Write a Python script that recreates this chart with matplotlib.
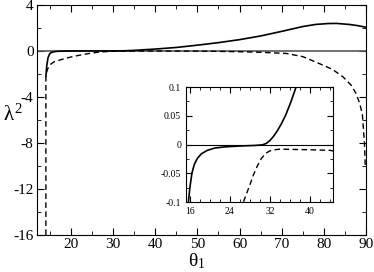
import matplotlib.pyplot as plt
from matplotlib.ticker import MultipleLocator

plt.rcParams["font.family"] = ["Liberation Serif", "DejaVu Serif"]
plt.rcParams["mathtext.fontset"] = "custom"
plt.rcParams["mathtext.rm"] = "Liberation Serif"
plt.rcParams["mathtext.it"] = "Liberation Serif"
plt.rcParams["axes.unicode_minus"] = False

# solid branch (theta_1, lambda^2)
solid_theta = [14.1, 14.3, 14.6, 15.0, 15.4, 15.7, 16.0, 16.4, 16.9, 17.5, 18.3, 19.5, 21.0,
               23.0, 26.0, 29.0, 30.5, 31.3, 32.0, 32.7, 33.5, 34.3, 35.2, 36.2, 37.2,
               40.0, 45.0, 50.0, 55.0, 60.0, 65.0, 70.0, 75.0, 78.0, 81.0, 83.0, 86.0,
               88.0, 90.0]
solid_val = [-2.2, -1.3, -0.6, -0.25, -0.13, -0.1, -0.075, -0.05, -0.034, -0.024, -0.016,
             -0.01, -0.006, -0.004, -0.0025, -0.0015, -0.0005, 0.002, 0.007, 0.014, 0.024,
             0.036, 0.052, 0.074, 0.099, 0.16, 0.3, 0.5, 0.72, 0.98, 1.3, 1.7, 2.12, 2.3,
             2.38, 2.39, 2.3, 2.2, 2.05]

# dashed branch
dash_theta = [14.1, 14.1, 14.3, 14.6, 15.1, 16.0, 17.5, 19.0, 21.0, 23.7, 26.7, 28.0,
              28.7, 29.5, 30.3, 31.2, 32.0, 33.0, 34.0, 40.0, 44.0, 50.0, 55.0, 60.0, 65.0,
              71.1, 75.0, 78.9, 82.0, 84.5, 86.5, 87.6, 88.5, 89.1, 89.6, 89.8]
dash_val = [-16.0, -2.2, -1.8, -1.5, -1.2, -0.95, -0.78, -0.62, -0.45, -0.26, -0.1, -0.07,
            -0.053, -0.037, -0.024, -0.015, -0.011, -0.009, -0.008, -0.009, -0.01, -0.02,
            -0.04, -0.07, -0.12, -0.22, -0.5, -1.1, -1.6, -2.25, -3.0, -3.7, -4.6, -5.5,
            -8.0, -10.2]


def style_axes(ax, size, major, minor, pad=3.5):
    ax.tick_params(which="both", direction="in", top=True, right=True, labelsize=size)
    ax.tick_params(which="major", length=major, pad=pad)
    ax.tick_params(which="minor", length=minor)


fig = plt.figure(figsize=(3.74, 2.72), dpi=100)

ax = fig.add_axes([0.099, 0.136, 0.880, 0.846])
ax.axhline(0, color="0.35", lw=1.2)
ax.plot(solid_theta, solid_val, "k-", lw=1.2)
ax.plot(dash_theta, dash_val, "k--", lw=1.0, dashes=(4, 2.5))
ax.set_xlim(12, 90)
ax.set_ylim(-16, 4)
ax.set_xticks(range(20, 91, 10))
ax.xaxis.set_minor_locator(MultipleLocator(5))
ax.yaxis.set_major_locator(MultipleLocator(4))
ax.yaxis.set_minor_locator(MultipleLocator(2))
style_axes(ax, 11, 5, 3, pad=2.5)
fig.text(0.527, 0.004, r"$\theta_1$", fontsize=14, ha="center", va="bottom")
fig.text(0.035, 0.575, r"$\lambda^2$", fontsize=15, ha="center", va="center")

ins = fig.add_axes([0.497, 0.257, 0.393, 0.423])
ins.axhline(0, color="k", lw=0.8)
ins.plot(solid_theta, solid_val, "k-", lw=1.2)
ins.plot(dash_theta, dash_val, "k--", lw=1.0, dashes=(4, 2.5))
ins.set_xlim(15.2, 44.6)
ins.set_ylim(-0.1, 0.1)
ins.set_xticks([16, 24, 32, 40])
ins.xaxis.set_minor_locator(MultipleLocator(2))
ins.set_yticks([-0.1, -0.05, 0, 0.05, 0.1])
ins.set_yticklabels(["-0.1", "-0.05", "0", "0.05", "0.1"])
ins.yaxis.set_minor_locator(MultipleLocator(0.025))
style_axes(ins, 7, 4, 2.5)

fig.savefig("out.png", dpi=100)
